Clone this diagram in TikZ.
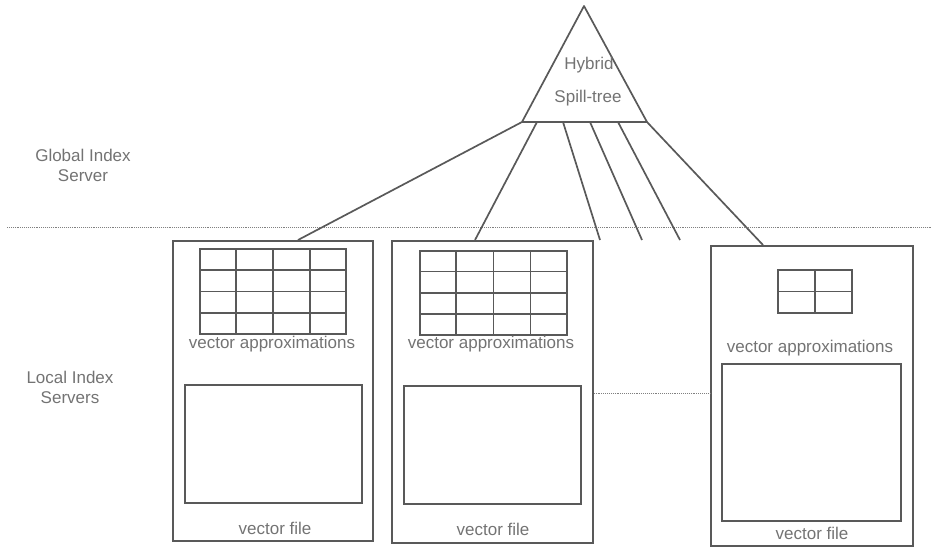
\documentclass[tikz,border=0pt]{standalone}
\usepackage{fontspec}
\setmainfont{Liberation Sans}
\usetikzlibrary{calc}
\begin{document}
\begin{tikzpicture}[x=1pt,y=-1pt,
  ln/.style={draw=black!65, line width=1.7pt},
  sep/.style={draw=black!50, line width=0.9pt, densely dotted},
  lbl/.style={text=black!55, font=\fontsize{17}{20}\selectfont, align=center, inner sep=0pt},
  boxnode/.style={draw=black!65, line width=1.7pt, inner sep=0pt, anchor=north west}]
\useasboundingbox (0,0) rectangle (932,549);

% separator between global and local index servers
\coordinate (sepL) at (7,227);
\coordinate (sepR) at (932,227);
\draw[sep] (sepL) -- (sepR);

% side labels
\node[lbl] (glob) at (83,165) {Global Index\\Server};
\node[lbl] (loc) at (70,387) {Local Index\\Servers};

% spill-tree triangle
\coordinate (apex) at (584,6);
\coordinate (bl) at (522,122);
\coordinate (br) at (647,122);
\draw[ln, line join=round] (apex) -- (bl) -- (br) -- cycle;
\node[lbl] (hyb) at (589,65) {Hybrid};
\node[lbl] (spl) at (588,98) {Spill-tree};

% server boxes
\node[boxnode, minimum width=200pt, minimum height=300pt] (s1) at (172,240) {};
\node[boxnode, minimum width=201pt, minimum height=302pt] (s2) at (391,240) {};
\node[boxnode, minimum width=202pt, minimum height=300pt] (s3) at (710,245) {};

% vector files
\node[boxnode, minimum width=177pt, minimum height=118pt] (f1) at (184,384) {};
\node[boxnode, minimum width=177pt, minimum height=118pt] (f2) at (403,385) {};
\node[boxnode, minimum width=179pt, minimum height=157pt] (f3) at (721,363) {};

% approximation grids
\node[boxnode, minimum width=146pt, minimum height=85pt] (g1) at (199,248) {};
\node[boxnode, minimum width=147pt, minimum height=84pt] (g2) at (419,250) {};
\node[boxnode, minimum width=74pt, minimum height=43pt] (g3) at (777,269) {};
\foreach \k in {1,2,3} {
  \draw[ln] ($(g1.north west)!\k/4!(g1.north east)$) -- ($(g1.south west)!\k/4!(g1.south east)$);
  \draw[ln] ($(g1.north west)!\k/4!(g1.south west)$) -- ($(g1.north east)!\k/4!(g1.south east)$);
  \draw[ln] ($(g2.north west)!\k/4!(g2.north east)$) -- ($(g2.south west)!\k/4!(g2.south east)$);
  \draw[ln] ($(g2.north west)!\k/4!(g2.south west)$) -- ($(g2.north east)!\k/4!(g2.south east)$);
}
\draw[ln] (g3.north) -- (g3.south);
\draw[ln] (g3.west) -- (g3.east);

% texts
\node[lbl] (va1) at (272,344) {vector approximations};
\node[lbl] (va2) at (491,344) {vector approximations};
\node[lbl] (va3) at (810,348) {vector approximations};
\node[lbl] (vf1) at (275,528) {vector file};
\node[lbl] (vf2) at (493,529) {vector file};
\node[lbl] (vf3) at (812,533) {vector file};

% branches from the tree
\coordinate (b1) at (522,122);
\coordinate (b2) at (537,122);
\coordinate (b3) at (563,122);
\coordinate (b4) at (590,122);
\coordinate (b5) at (618,122);
\coordinate (b6) at (647,122);
\coordinate (t1) at (298,240);
\coordinate (t2) at (475,240);
\coordinate (t3) at (600,240);
\coordinate (t4) at (642,240);
\coordinate (t5) at (680,240);
\coordinate (t6) at (763,245);
\foreach \k in {1,...,6} \draw[ln] (b\k) -- (t\k);

% link between local servers
\coordinate (m2) at (s2.east |- 0,393);
\coordinate (m3) at (s3.west |- 0,393);
\draw[sep] (m2) -- (m3);
\end{tikzpicture}
\end{document}
